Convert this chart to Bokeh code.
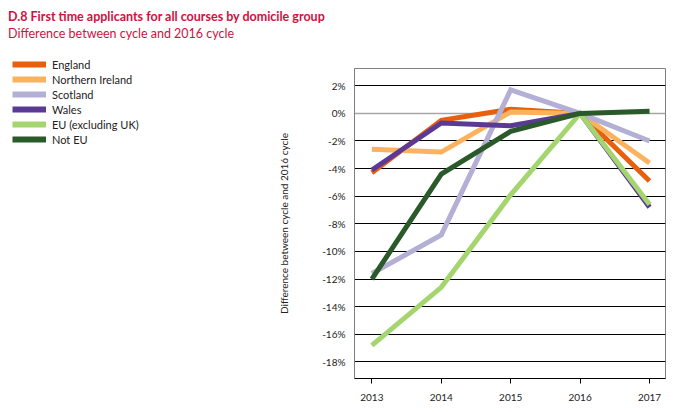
from bokeh.plotting import figure
from bokeh.layouts import column, row
from bokeh.models import (
    ColumnDataSource, Legend, LegendItem, FixedTicker, Div,
    PrintfTickFormatter, Span, Range1d
)
from bokeh.embed import file_html
from bokeh.resources import INLINE

# values (% difference vs 2016 cycle)
years = [2013, 2014, 2015, 2016, 2017]
england = [-4.3, -0.5, 0.3, 0.0, -4.9]
northern_ireland = [-2.6, -2.8, 0.1, 0.0, -3.6]
scotland = [-11.6, -8.8, 1.7, 0.0, -2.0]
wales = [-4.1, -0.7, -0.9, 0.0, -6.8]
eu = [-16.8, -12.6, -5.9, 0.0, -6.6]
not_eu = [-12.0, -4.4, -1.3, 0.0, 0.15]

series_names = ["England", "Northern Ireland", "Scotland", "Wales",
                "EU (excluding UK)", "Not EU"]
series_values = [england, northern_ireland, scotland, wales, eu, not_eu]
series_colors = ["#e8600e", "#fbb25e", "#b3afd5", "#5b3a96", "#a4d56e", "#2a5a2a"]

y_ticks = [-18, -16, -14, -12, -10, -8, -6, -4, -2, 0, 2]
grid_ticks = [-18, -16, -14, -12, -10, -8, -6, -4, -2, 2]

title = "D.8 First time applicants for all courses by domicile group"
subtitle = "Difference between cycle and 2016 cycle"

FONT = "Lato"
RED = "#cf1140"
TXT = "#222222"

header = Div(width=680, height=50, margin=0, text=(
    f'<div style="font-family:{FONT};color:{RED};font-size:12.5px;'
    f'line-height:17px;padding:8px 0 0 8px;white-space:nowrap">'
    f'<b>{title}</b><br>{subtitle}</div>'))

# main chart
p = figure(width=420, height=362, output_backend="svg", toolbar_location=None,
           x_range=Range1d(2012.75, 2017.23), y_range=Range1d(-19.2, 3.25),
           min_border_left=94, min_border_right=15, min_border_top=18,
           min_border_bottom=34, margin=0)
p.frame_align = False

p.background_fill_color = "white"
p.border_fill_color = "white"
p.outline_line_color = "#7f7f7f"
p.outline_line_width = 1

# grid: black lines, 0% drawn grey
p.xgrid.grid_line_color = None
p.ygrid.ticker = FixedTicker(ticks=grid_ticks)
p.ygrid.grid_line_color = "black"
p.ygrid.grid_line_width = 1
p.add_layout(Span(location=0, dimension="width", line_color="#a6a6a6",
                  line_width=1.5, level="underlay"))

# y axis
p.yaxis.ticker = FixedTicker(ticks=y_ticks)
p.yaxis.formatter = PrintfTickFormatter(format="%d%%")
p.yaxis.major_tick_line_color = None
p.yaxis.minor_tick_line_color = None
p.yaxis.axis_line_color = "#7f7f7f"
p.yaxis.major_label_standoff = 3
p.yaxis.major_label_text_font = FONT
p.yaxis.major_label_text_font_size = "10px"
p.yaxis.major_label_text_color = TXT
p.yaxis.axis_label = subtitle
p.yaxis.axis_label_text_font = FONT
p.yaxis.axis_label_text_font_size = "10px"
p.yaxis.axis_label_text_font_style = "normal"
p.yaxis.axis_label_text_color = TXT
p.yaxis.axis_label_standoff = 29

# x axis
p.xaxis.ticker = FixedTicker(ticks=years)
p.xaxis.major_tick_in = 0
p.xaxis.major_tick_out = 5
p.xaxis.major_tick_line_color = "black"
p.xaxis.minor_tick_line_color = None
p.xaxis.axis_line_color = "black"
p.xaxis.axis_line_width = 1.2
p.xaxis.major_label_standoff = 10
p.xaxis.major_label_text_font = FONT
p.xaxis.major_label_text_font_size = "10px"
p.xaxis.major_label_text_color = TXT

# legend panel: a bare figure on the left, its own lines sit out of view
lg = figure(width=260, height=362, output_backend="svg", toolbar_location=None,
            x_range=Range1d(0, 1), y_range=Range1d(0, 1), margin=0,
            x_axis_location=None, y_axis_location=None,
            min_border=0, outline_line_color=None)
lg.frame_align = False
lg.grid.visible = False

items = []
for name, vals, col in zip(series_names, series_values, series_colors):
    src = ColumnDataSource(data=dict(year=years, value=vals))
    p.line("year", "value", source=src, line_color=col, line_width=5,
           line_join="miter")
    r = lg.line("year", "value", source=src, line_color=col, line_width=6)
    items.append(LegendItem(label=name, renderers=[r]))

legend = Legend(items=items, location=(12, 266),
                label_text_font=FONT, label_text_font_size="11px",
                label_text_color=TXT,
                glyph_width=34, glyph_height=14, label_height=14,
                label_standoff=6, spacing=1, padding=0, margin=0,
                border_line_color=None, background_fill_alpha=0)
lg.add_layout(legend)

layout = column(header, row(lg, p, spacing=0, margin=0), spacing=0, margin=0)

open("out.html", "w").write(file_html(layout, INLINE))
